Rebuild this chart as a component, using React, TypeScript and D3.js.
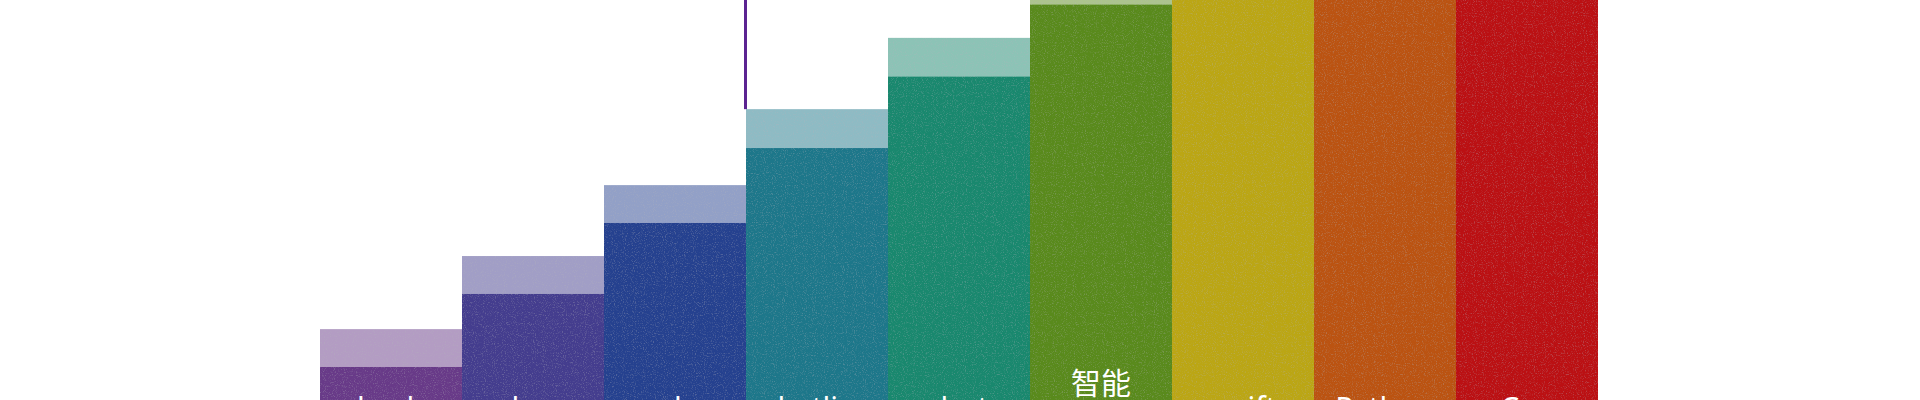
import * as d3 from 'd3';

// bar categories (labels are mostly cut off at the bottom edge)
const labels = ['bash', 'lua', 'ruby', 'kotlin', 'dart', '智能\n合约', 'swift', 'Python', 'C++'];
// solid part of each bar
const actual = [20.3, 40.6, 60.3, 81.1, 101, 121, 142, 162, 182];
// lighter part stacked on top (target)
const target = [30.8, 51.1, 70.8, 91.9, 111.7, 131.7, 152.5, 172.5, 192.5];
const colors = [
  '#683a88', '#443d8e', '#25418f', '#1d778a', '#19886e',
  '#598a1c', '#bba614', '#bb5311', '#bb1013',
];
// highlighted bar that gets the vertical marker line
const markerIndex = 3;

const W = 1920;
const H = 400;

function App() {
  const x = d3.scaleBand<number>()
    .domain(d3.range(labels.length))
    .range([320, 1598])
    .padding(0);

  const y = d3.scaleLinear()
    .domain([0, 100])
    .range([440, 80]);

  const bw = x.bandwidth();
  const font = "'Noto Sans', 'Noto Sans CJK SC', sans-serif";

  return (
    <svg
      width={W}
      height={H}
      viewBox={`0 0 ${W} ${H}`}
      style={{ position: 'absolute', left: 0, top: 0, display: 'block', background: '#fff' }}
    >
      <defs>
        <filter id="grain" x="0" y="0" width="100%" height="100%">
          <feTurbulence type="fractalNoise" baseFrequency="0.9" numOctaves="2" seed="4" result="noise" />
          <feColorMatrix
            in="noise"
            type="matrix"
            values="0 0 0 0 0.45  0 0 0 0 0.45  0 0 0 0 0.5  4 0 0 0 -2.1"
            result="dots"
          />
          <feComposite in="dots" in2="SourceGraphic" operator="in" />
        </filter>
      </defs>

      {labels.map((lab, i) => {
        const x0 = x(i)!;
        const yA = y(actual[i]);
        const yT = y(target[i]);
        const lines = lab.split('\n');
        return (
          <g key={i}>
            {/* light target part */}
            <rect x={x0} y={yT} width={bw} height={yA - yT} fill={colors[i]} fillOpacity={0.5} />
            {/* solid part */}
            <rect x={x0} y={yA} width={bw} height={H + 100 - yA} fill={colors[i]} />
            {/* speckle texture */}
            <rect
              x={x0}
              y={yT}
              width={bw}
              height={H + 100 - yT}
              fill="#000"
              filter="url(#grain)"
              opacity={0.3}
            />
            {lines.map((t, k) => (
              <text
                key={k}
                x={x0 + bw / 2}
                y={lines.length > 1 ? 394 + k * 40 : 419}
                textAnchor="middle"
                fill="#fff"
                fontSize={30}
                fontFamily={font}
              >
                {t}
              </text>
            ))}
          </g>
        );
      })}

      {/* marker line at the left edge of the highlighted bar */}
      <line
        x1={x(markerIndex)! - 0.5}
        x2={x(markerIndex)! - 0.5}
        y1={-10}
        y2={y(target[markerIndex])}
        stroke="#5b2391"
        strokeWidth={3}
      />
    </svg>
  );
}

export default App;
